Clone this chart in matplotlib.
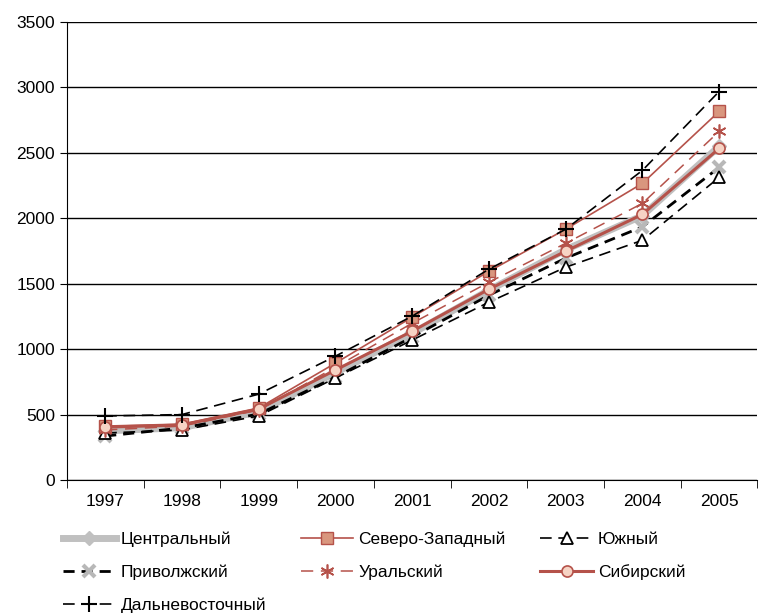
import matplotlib
matplotlib.use("Agg")
import matplotlib.pyplot as plt
from matplotlib import font_manager

# pick a narrow font if one is there
names = {f.name for f in font_manager.fontManager.ttflist}
fam = ['Liberation Sans Narrow', 'DejaVu Sans'] if 'Liberation Sans Narrow' in names else ['Liberation Sans', 'DejaVu Sans']
plt.rcParams['font.family'] = fam

years = ['1997', '1998', '1999', '2000', '2001', '2002', '2003', '2004', '2005']

central = [375, 400, 520, 820, 1120, 1450, 1760, 2020, 2550]
northwest = [412, 427, 550, 893, 1244, 1595, 1916, 2267, 2817]
south = [359, 382, 489, 779, 1069, 1359, 1626, 1832, 2313]
volga = [336, 397, 504, 786, 1092, 1412, 1695, 1935, 2389]
ural = [382, 412, 534, 862, 1198, 1511, 1809, 2114, 2664]
siberia = [404, 420, 542, 840, 1137, 1458, 1748, 2030, 2534]
fareast = [489, 500, 656, 946, 1252, 1611, 1916, 2366, 2969]

red = '#b5524a'
x = range(len(years))

fig = plt.figure(figsize=(7.59, 6.13), dpi=100)
ax = fig.add_axes([0.088, 0.217, 0.91, 0.747])

h_c, = ax.plot(x, central, color='#c0c0c0', lw=5, marker='D', ms=7, mfc='#c0c0c0', mec='#c0c0c0', label='Центральный')
h_v, = ax.plot(x, volga, color='black', lw=2, ls=(0, (4, 2.5)), marker='x', ms=9, mew=3, mec='#b8b8b8', label='Приволжский')
h_s, = ax.plot(x, south, color='black', lw=1.2, ls=(0, (7, 4)), marker='^', ms=8, mfc='white', mec='black', mew=1.3, label='Южный')
h_u, = ax.plot(x, ural, color=red, lw=1.1, ls=(0, (8, 5)), marker=(6, 2, 0), ms=10, mec=red, mew=1.2, label='Уральский')
h_nw, = ax.plot(x, northwest, color=red, lw=1.2, marker='s', ms=8, mfc='#d9967e', mec=red, label='Северо-Западный')
h_sb, = ax.plot(x, siberia, color=red, lw=2.2, marker='o', ms=8, mfc='#f6d3c4', mec=red, mew=1.2, label='Сибирский')
h_fe, = ax.plot(x, fareast, color='black', lw=1.2, ls=(0, (7, 4)), marker='+', ms=11, mew=1.5, label='Дальневосточный')

ax.set_xlim(-0.5, 8.5)
ax.set_ylim(0, 3500)
ax.set_yticks(range(0, 3501, 500))
ax.yaxis.grid(True, color='black', lw=1)
ax.set_axisbelow(True)
ax.set_xticks(x)
ax.set_xticklabels(years)
ax.set_xticks([i - 0.5 for i in range(10)], minor=True)
ax.tick_params(axis='x', which='major', length=0, pad=10, labelsize=12.5)
ax.tick_params(axis='x', which='minor', length=6, direction='out')
ax.tick_params(axis='y', length=5, direction='out', labelsize=12.5)
for s in ['top', 'right']:
    ax.spines[s].set_visible(False)

order = [h_c, h_v, h_fe, h_nw, h_u, h_s, h_sb]
fig.legend(handles=order, labels=[h.get_label() for h in order], ncol=3, loc='lower left',
           bbox_to_anchor=(0.063, -0.025), frameon=False, fontsize=12.5, handlelength=3.0,
           columnspacing=2.0, labelspacing=1.0, handletextpad=0.3)

fig.savefig('out.png', dpi=100)
